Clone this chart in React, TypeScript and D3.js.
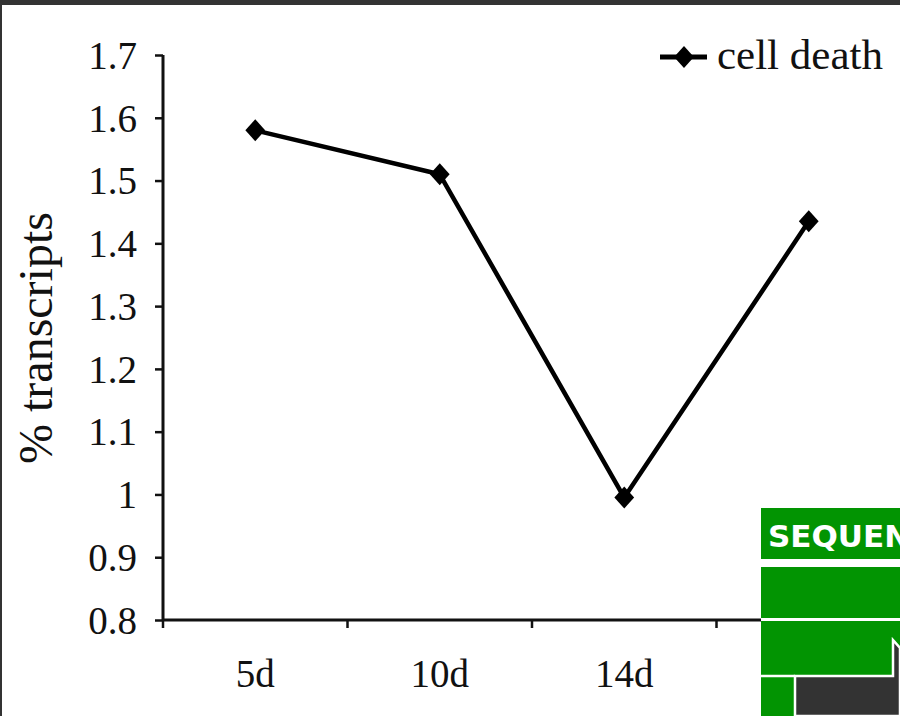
import React, { useEffect, useRef } from "react";
import * as d3 from "d3";

// Sampling days and share of transcripts annotated as cell death
const categories = ["5d", "10d", "14d", "21d"];
const cellDeath = [1.58, 1.51, 0.995, 1.435];
const yTicks = [0.8, 0.9, 1, 1.1, 1.2, 1.3, 1.4, 1.5, 1.6, 1.7];
const seriesName = "cell death";
const yTitle = "% transcripts";
const bannerText = "SEQUENCE";

const W = 900;
const H = 716;

const diamond = (r: number) => `M0,${-r}L${r * 0.9},0L0,${r}L${-r * 0.9},0Z`;

export default function App() {
  const ref = useRef<SVGSVGElement | null>(null);

  useEffect(() => {
    const svg = d3.select(ref.current);
    svg.selectAll("*").remove();

    const serif = "'Liberation Serif', 'Times New Roman', serif";

    svg.append("rect").attr("width", W).attr("height", H).attr("fill", "#ffffff");

    const x = d3.scaleBand<string>().domain(categories).range([163, 901]).padding(0);
    const y = d3.scaleLinear().domain([0.8, 1.7]).range([620, 55]);

    // Y axis
    const yAxis = d3
      .axisLeft(y)
      .tickValues(yTicks)
      .tickSize(8)
      .tickPadding(18)
      .tickFormat((d) => String(d));
    const gy = svg.append("g").attr("transform", "translate(163,0)").call(yAxis);
    gy.select(".domain").attr("stroke", "#111").attr("stroke-width", 3).attr("d", `M0,${y(1.7)}V${y(0.8)}`);
    gy.selectAll(".tick line").attr("stroke", "#111").attr("stroke-width", 2.5);
    gy.selectAll(".tick text")
      .attr("font-family", serif)
      .attr("font-size", 39)
      .attr("fill", "#111")
      .attr("dy", "0.34em");

    // X axis with ticks on the category boundaries
    const gx = svg.append("g");
    gx.append("line")
      .attr("x1", x.range()[0])
      .attr("x2", x.range()[1])
      .attr("y1", y(0.8))
      .attr("y2", y(0.8))
      .attr("stroke", "#111")
      .attr("stroke-width", 3);
    const bounds = categories.map((c) => x(c) as number).concat([x.range()[1]]);
    gx.selectAll("line.tk")
      .data(bounds)
      .enter()
      .append("line")
      .attr("class", "tk")
      .attr("x1", (d) => d)
      .attr("x2", (d) => d)
      .attr("y1", y(0.8))
      .attr("y2", y(0.8) + 8)
      .attr("stroke", "#111")
      .attr("stroke-width", 2.5);
    gx.selectAll("text")
      .data(categories)
      .enter()
      .append("text")
      .attr("x", (d) => (x(d) as number) + x.bandwidth() / 2)
      .attr("y", 687)
      .attr("text-anchor", "middle")
      .attr("font-family", serif)
      .attr("font-size", 39)
      .attr("fill", "#111")
      .text((d) => d);

    // Y title
    svg.append("text")
      .attr("transform", "translate(52,338) rotate(-90)")
      .attr("text-anchor", "middle")
      .attr("font-family", serif)
      .attr("font-size", 48)
      .attr("fill", "#111")
      .text(yTitle);

    // Series line and markers
    const pts = categories.map((c, i) => [(x(c) as number) + x.bandwidth() / 2, y(cellDeath[i])] as [number, number]);
    svg.append("path")
      .attr("d", d3.line()(pts))
      .attr("fill", "none")
      .attr("stroke", "#000")
      .attr("stroke-width", 4.5)
      .attr("stroke-linejoin", "round");
    svg.selectAll("path.mk")
      .data(pts)
      .enter()
      .append("path")
      .attr("class", "mk")
      .attr("transform", (d) => `translate(${d[0]},${d[1]})`)
      .attr("d", diamond(11))
      .attr("fill", "#000");

    // Legend
    const lg = svg.append("g").attr("transform", "translate(660,57)");
    lg.append("line").attr("x1", 0).attr("x2", 47).attr("stroke", "#000").attr("stroke-width", 5);
    lg.append("path").attr("transform", "translate(24,0)").attr("d", diamond(11)).attr("fill", "#000");
    lg.append("text")
      .attr("x", 57)
      .attr("y", 12)
      .attr("font-family", serif)
      .attr("font-size", 43)
      .attr("fill", "#111")
      .text(seriesName);

    // Banner panel in the lower right corner
    const green = "#029402";
    const bn = svg.append("g");
    bn.append("rect").attr("x", 761).attr("y", 508).attr("width", 139).attr("height", 208).attr("fill", "#ffffff");
    bn.append("rect").attr("x", 761).attr("y", 508).attr("width", 139).attr("height", 51).attr("fill", green);
    bn.append("text")
      .attr("x", 768)
      .attr("y", 547)
      .attr("font-family", "'DejaVu Sans', Verdana, sans-serif")
      .attr("font-weight", 700)
      .attr("font-size", 31)
      .attr("fill", "#ffffff")
      .text(bannerText);
    bn.append("rect").attr("x", 761).attr("y", 567).attr("width", 139).attr("height", 51).attr("fill", green);
    bn.append("rect").attr("x", 761).attr("y", 621).attr("width", 139).attr("height", 95).attr("fill", green);
    bn.append("line")
      .attr("x1", 761)
      .attr("x2", 795)
      .attr("y1", 676)
      .attr("y2", 676)
      .attr("stroke", "#ffffff")
      .attr("stroke-width", 2.5);
    bn.append("path")
      .attr("d", "M795,716V676H893V640L900,648V716Z")
      .attr("fill", "#333333")
      .attr("stroke", "#ffffff")
      .attr("stroke-width", 2.5);

    // Frame edges
    svg.append("rect").attr("x", 0).attr("y", 0).attr("width", W).attr("height", 5).attr("fill", "#333333");
    svg.append("rect").attr("x", 0).attr("y", 0).attr("width", 2).attr("height", H).attr("fill", "#333333");
  }, []);

  return (
    <svg
      ref={ref}
      width={W}
      height={H}
      style={{ position: "absolute", left: 0, top: 0, display: "block" }}
    />
  );
}
